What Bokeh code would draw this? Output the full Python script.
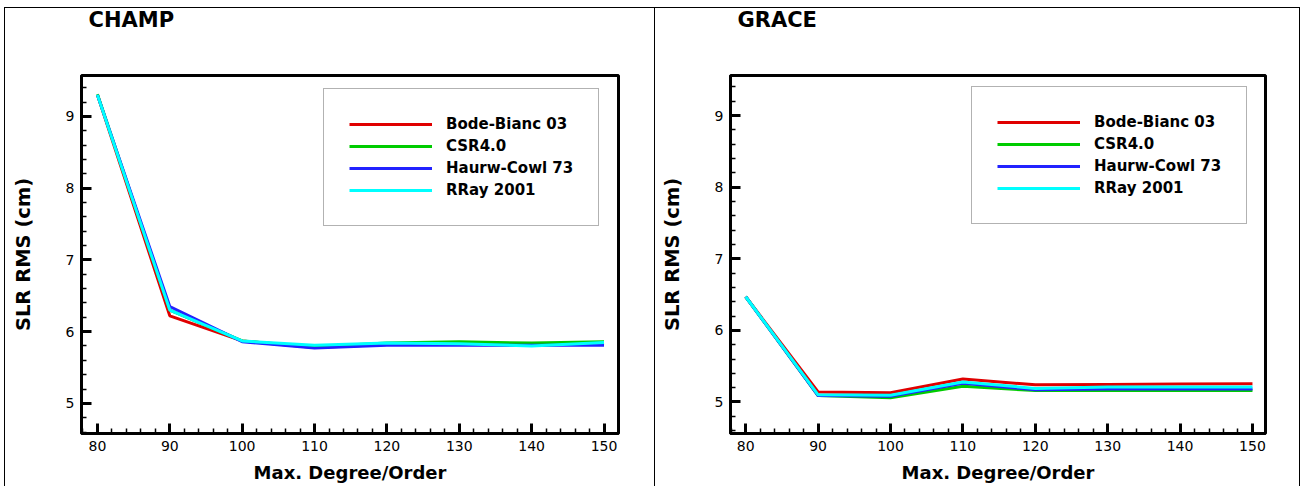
from bokeh.plotting import figure
from bokeh.models import FixedTicker, Legend, LegendItem, Title, Range1d
from bokeh.layouts import row
from bokeh.embed import file_html
from bokeh.resources import INLINE

# ---------------- data ----------------
degrees = [80, 90, 100, 110, 120, 130, 140, 150]
series_names = ["Bode-Bianc 03", "CSR4.0", "Haurw-Cowl 73", "RRay 2001"]
series_colors = ["#e00000", "#00cc00", "#2222ff", "#00ffff"]

champ_bode = [9.30, 6.22, 5.87, 5.78, 5.82, 5.82, 5.81, 5.83]
champ_csr = [9.31, 6.30, 5.87, 5.79, 5.84, 5.86, 5.84, 5.86]
champ_haurw = [9.30, 6.35, 5.86, 5.77, 5.81, 5.81, 5.81, 5.81]
champ_rray = [9.30, 6.30, 5.87, 5.81, 5.84, 5.83, 5.80, 5.85]

grace_bode = [6.47, 5.14, 5.13, 5.32, 5.24, 5.245, 5.25, 5.255]
grace_csr = [6.47, 5.09, 5.06, 5.22, 5.16, 5.16, 5.16, 5.16]
grace_haurw = [6.47, 5.09, 5.08, 5.26, 5.17, 5.18, 5.18, 5.18]
grace_rray = [6.47, 5.10, 5.095, 5.28, 5.19, 5.21, 5.21, 5.21]

panel_titles = ["CHAMP", "GRACE"]
x_axis_title = "Max. Degree/Order"
y_axis_title = "SLR RMS (cm)"

x_major = [80, 90, 100, 110, 120, 130, 140, 150]
x_minor = [v for v in range(78, 153, 2) if v % 10 != 0]
y_major = [5, 6, 7, 8, 9]
y_minor = [4.6, 4.8, 5.2, 5.4, 5.6, 5.8, 6.2, 6.4, 6.6, 6.8, 7.2, 7.4, 7.6, 7.8,
           8.2, 8.4, 8.6, 8.8, 9.2, 9.4]

FONT = "DejaVu Sans"


def build(title, series, width, x_rng, y_rng, min_left, min_right, legend_loc, shadow):
    p = figure(width=width, height=486,
               x_range=Range1d(*x_rng), y_range=Range1d(*y_rng),
               output_backend="svg", toolbar_location=None,
               min_border_left=min_left, min_border_right=min_right,
               min_border_top=75, min_border_bottom=53,
               border_fill_color=None, background_fill_color="white",
               styles={"box-shadow": shadow})
    p.grid.visible = False
    p.outline_line_color = "black"
    p.outline_line_width = 3
    p.outline_line_alpha = 1.0

    items = []
    for name, color, vals in zip(series_names, series_colors, series):
        r = p.line(degrees, vals, line_color=color, line_width=3)
        items.append(LegendItem(label=name, renderers=[r]))

    legend = Legend(items=items, location=legend_loc,
                    padding=25, spacing=2, margin=0,
                    glyph_width=83, glyph_height=20, label_height=20,
                    label_standoff=14,
                    label_text_font=FONT, label_text_font_style="bold",
                    label_text_font_size="15px", label_text_color="black",
                    border_line_color="#666666", border_line_width=1.5,
                    background_fill_color="white", background_fill_alpha=1.0)
    p.add_layout(legend)

    for ax in (p.xaxis[0], p.yaxis[0]):
        ax.axis_line_width = 3
        ax.axis_line_color = "black"
        ax.major_tick_in = 10
        ax.major_tick_out = 0
        ax.minor_tick_in = 5
        ax.minor_tick_out = 0
        ax.major_tick_line_width = 3
        ax.minor_tick_line_width = 1.5
        ax.major_tick_line_color = "black"
        ax.minor_tick_line_color = "black"
        ax.major_label_text_font = FONT
        ax.major_label_text_font_size = "14px"
        ax.major_label_text_color = "black"
        ax.axis_label_text_font = FONT
        ax.axis_label_text_font_style = "bold"
        ax.axis_label_text_color = "black"

    p.xaxis[0].ticker = FixedTicker(ticks=x_major, minor_ticks=x_minor)
    p.yaxis[0].ticker = FixedTicker(ticks=y_major, minor_ticks=y_minor)
    p.xaxis[0].axis_label = x_axis_title
    p.yaxis[0].axis_label = y_axis_title
    p.xaxis[0].axis_label_text_font_size = "18px"
    p.yaxis[0].axis_label_text_font_size = "19.5px"
    p.xaxis[0].major_label_standoff = 7
    p.xaxis[0].axis_label_standoff = 8
    p.yaxis[0].major_label_standoff = 7
    p.yaxis[0].axis_label_standoff = 28

    # spacer (closest to the frame) and the panel title above it
    p.add_layout(Title(text=" ", text_font_size="10px", standoff=24), "above")
    p.add_layout(Title(text=title, align="left", offset=7, vertical_align="top",
                       text_font=FONT, text_font_style="bold",
                       text_font_size="21px", text_color="black",
                       standoff=10), "above")
    return p


p1 = build(panel_titles[0], [champ_bode, champ_csr, champ_haurw, champ_rray], 654,
           (77.8, 152.0), (4.58, 9.57), 81, 36, (242, 207),
           "inset 0 7px 0 0 #fff, inset 4px 0 0 0 #fff, "
           "inset 0 8px 0 0 #000, inset 5px 0 0 0 #000")
p2 = build(panel_titles[1], [grace_bode, grace_csr, grace_haurw, grace_rray], 646,
           (77.9, 151.8), (4.56, 9.56), 76, 35, (241, 209),
           "inset 0 7px 0 0 #fff, "
           "inset 0 8px 0 0 #000, inset 1px 0 0 0 #000, inset -1px 0 0 0 #000")

layout = row(p1, p2, spacing=0)
open("out.html", "w").write(file_html(layout, INLINE))
